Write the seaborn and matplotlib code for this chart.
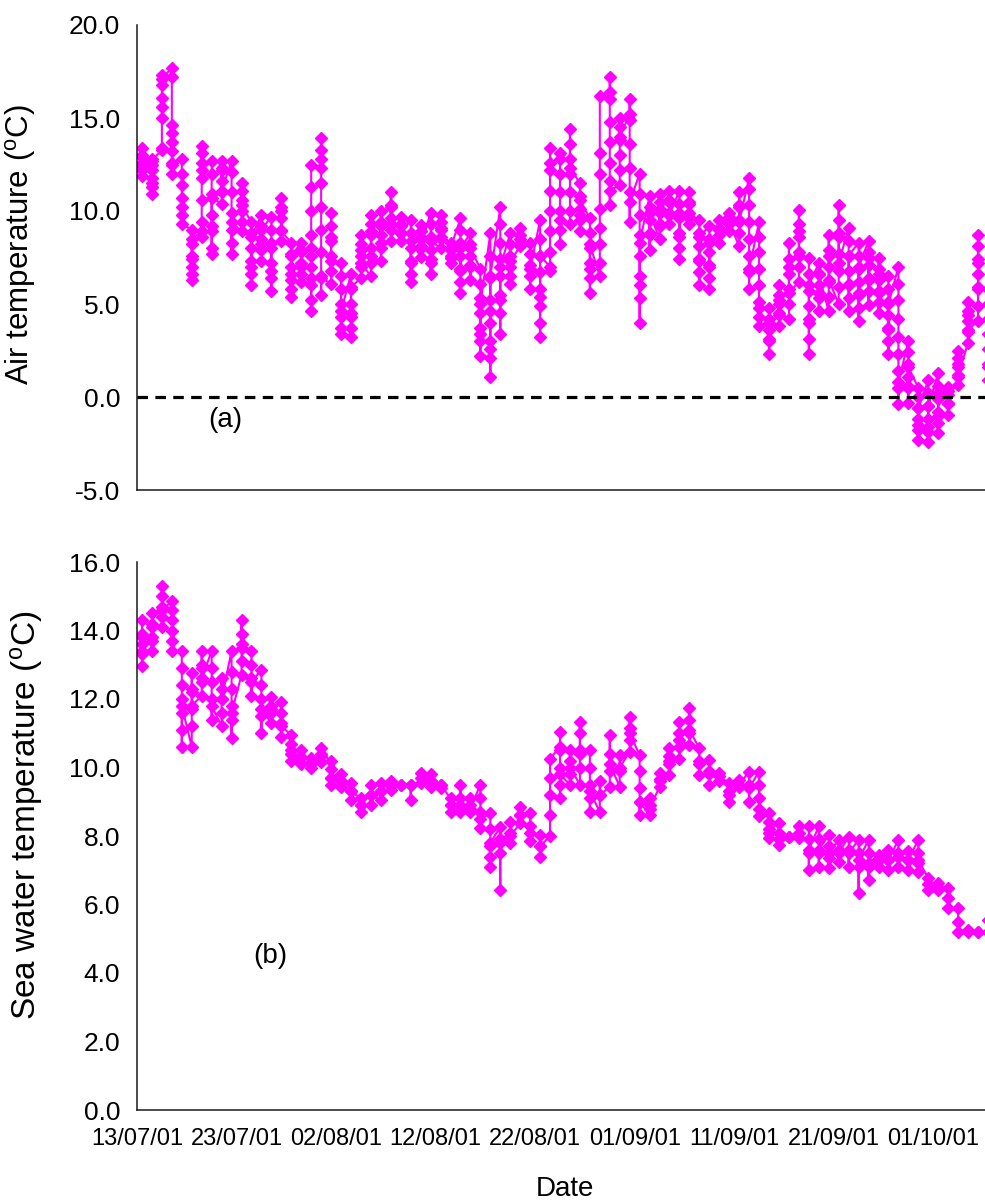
import numpy as np
import pandas as pd
import matplotlib
matplotlib.use("Agg")
import matplotlib.pyplot as plt
import seaborn as sns

# ---------------- data ----------------
tick_days = [0, 10, 20, 30, 40, 50, 60, 70, 80]
tick_labels = ["13/07/01", "23/07/01", "02/08/01", "12/08/01", "22/08/01",
               "01/09/01", "11/09/01", "21/09/01", "01/10/01"]

# Air temperature readings (°C), one list per day starting 13/07/01
air_readings = [
    [12.6, 12.2, 11.9, 12.4, 12.9, 13.4, 13.0, 12.5],
    [12.5, 11.8, 11.3, 10.9, 11.5, 12.2, 12.8, 12.7],
    [13.3, 13.4, 15.0, 15.6, 16.1, 16.8, 17.3, 17.1],
    [17.7, 17.2, 14.6, 14.2, 13.7, 13.2, 12.5, 12.0, 12.6],
    [12.8, 12.0, 11.4, 10.7, 10.2, 9.8, 9.3],
    [9.0, 8.2, 7.6, 7.0, 6.6, 6.3, 7.4, 8.5],
    [8.9, 8.6, 9.4, 10.6, 11.8, 12.6, 13.5, 13.1, 12.2],
    [12.7, 12.0, 10.9, 9.8, 8.9, 8.0, 7.7, 9.2, 10.7],
    [10.4, 11.0, 11.6, 12.2, 12.7, 12.3, 11.1],
    [12.7, 12.1, 11.0, 9.9, 9.0, 8.3, 7.7, 9.4],
    [8.9, 9.4, 10.0, 10.6, 11.1, 11.5, 10.3],
    [9.4, 8.8, 8.0, 7.3, 6.6, 6.0, 7.0, 8.6],
    [9.8, 9.2, 8.5, 7.9, 7.3, 8.2, 9.0],
    [9.7, 9.0, 8.0, 7.2, 6.4, 5.7, 6.8, 8.3],
    [8.4, 9.0, 9.6, 10.2, 10.7, 10.0, 8.9],
    [8.3, 7.7, 7.0, 6.3, 5.8, 5.4, 6.6, 7.6],
    [8.3, 7.8, 7.2, 6.6, 6.2, 7.0, 7.9],
    [8.0, 7.0, 6.0, 5.2, 4.6, 6.4, 7.6, 8.7, 10.0, 11.3, 12.5],
    [12.3, 13.3, 13.9, 12.8, 11.5, 10.2, 9.0, 7.8, 6.5, 5.5, 6.4],
    [6.1, 6.8, 7.6, 8.4, 9.2, 9.9, 8.6, 7.3],
    [7.2, 6.5, 5.8, 5.0, 4.3, 3.7, 3.4, 4.6],
    [6.6, 5.8, 5.0, 4.3, 3.7, 3.2, 4.5, 5.9],
    [6.4, 7.0, 7.6, 8.2, 8.7, 7.9, 7.2],
    [6.5, 7.2, 8.0, 8.7, 9.3, 9.8, 8.9, 7.6],
    [7.3, 8.0, 8.7, 9.4, 10.0, 9.2, 8.3],
    [8.4, 9.0, 9.6, 10.3, 11.0, 10.2, 9.3],
    [8.4, 8.8, 9.2, 9.7, 9.3, 8.8],
    [9.5, 8.8, 8.0, 7.3, 6.6, 6.2, 7.2, 8.4],
    [7.55, 8.0, 8.5, 8.9, 9.25, 8.6, 8.1],
    [9.9, 9.3, 8.6, 7.9, 7.2, 6.6, 7.4, 8.4],
    [8.0, 8.5, 9.0, 9.4, 9.8, 9.1, 8.6],
    [8.3, 7.9, 7.5, 7.2, 7.6, 8.0],
    [9.6, 9.0, 8.3, 7.6, 6.9, 6.2, 5.6, 6.8, 8.0],
    [8.8, 8.2, 7.6, 7.0, 6.3, 7.1, 8.0],
    [6.9, 6.1, 5.3, 4.5, 3.7, 3.0, 2.2, 3.4, 5.0],
    [8.8, 7.6, 6.4, 5.2, 4.0, 3.0, 2.1, 1.1, 2.6, 4.6, 6.5],
    [10.2, 9.3, 8.3, 7.4, 6.5, 5.5, 4.5, 3.4, 5.2, 7.0],
    [8.8, 8.2, 7.6, 7.0, 6.5, 6.1, 7.3],
    [8.1, 8.5, 9.1, 8.7, 8.3],
    [8.3, 7.7, 7.1, 6.5, 5.8, 6.9],
    [9.5, 8.5, 7.6, 6.7, 5.8, 4.9, 4.0, 3.2, 5.4, 7.6],
    [7.0, 6.8, 7.8, 8.9, 10.0, 11.1, 12.2, 13.4, 12.6],
    [12.8, 13.1, 12.0, 11.0, 10.0, 9.0, 8.2, 9.5],
    [9.3, 10.0, 11.0, 12.0, 12.8, 13.6, 14.4, 12.3],
    [11.5, 10.8, 10.1, 9.5, 8.9, 9.8, 10.6],
    [9.6, 8.8, 8.0, 7.2, 6.4, 5.6, 6.9, 8.2],
    [6.5, 7.2, 8.2, 9.1, 10.1, 12.0, 13.1, 16.2],
    [16.4, 17.2, 16.0, 14.8, 13.7, 12.6, 11.6, 10.3, 11.1],
    [11.4, 12.2, 13.0, 13.8, 14.5, 15.0, 14.0],
    [15.2, 16.0, 14.9, 13.6, 12.3, 11.0, 9.4, 10.5],
    [12.0, 10.9, 9.8, 8.7, 7.6, 6.5, 5.3, 4.0, 6.0, 8.3],
    [10.8, 10.2, 9.5, 8.7, 7.9, 8.8, 9.9],
    [8.5, 9.2, 9.9, 10.5, 10.9, 10.1, 9.3],
    [9.3, 9.9, 10.5, 11.1, 10.6, 9.8],
    [11.1, 10.4, 9.6, 8.8, 8.0, 7.4, 8.6, 9.9],
    [9.3, 9.9, 10.5, 11.0, 10.4, 9.7],
    [9.5, 8.8, 8.1, 7.4, 6.7, 6.0, 7.3, 8.6],
    [9.2, 8.5, 7.8, 7.1, 6.4, 5.8, 7.0, 8.3],
    [8.3, 8.7, 9.1, 9.5, 9.0],
    [8.9, 9.3, 9.7, 9.9, 9.4],
    [8.1, 8.8, 9.5, 10.2, 11.0, 10.3, 9.4],
    [11.8, 11.2, 10.3, 9.4, 8.5, 7.6, 6.7, 5.8, 6.9],
    [9.4, 8.6, 7.8, 6.9, 6.0, 5.1, 4.3, 3.8, 4.8],
    [4.8, 4.2, 3.6, 3.0, 2.3, 3.1, 4.0],
    [3.8, 4.4, 5.0, 5.5, 6.0, 5.2, 4.5],
    [4.2, 5.0, 5.8, 6.6, 7.4, 8.3, 7.0, 5.6],
    [6.2, 7.0, 7.8, 8.6, 9.3, 10.05, 8.9, 7.6],
    [7.5, 6.6, 5.7, 4.9, 4.0, 3.1, 2.3, 4.2, 6.0],
    [7.2, 6.6, 6.0, 5.3, 4.6, 5.6, 6.6],
    [4.6, 5.4, 6.2, 7.0, 7.9, 8.7, 7.6, 6.3],
    [5.0, 5.9, 6.8, 7.7, 8.6, 9.5, 10.3, 8.8, 7.2],
    [9.1, 8.4, 7.6, 6.8, 6.0, 5.3, 4.6, 6.1, 7.6],
    [8.3, 7.6, 6.9, 6.2, 5.5, 4.8, 4.1, 5.6, 7.0],
    [8.4, 7.8, 7.1, 6.4, 5.7, 4.95, 6.3, 7.5],
    [7.5, 6.9, 6.3, 5.7, 5.1, 4.5, 5.6, 6.6],
    [6.5, 5.8, 5.1, 4.4, 3.7, 3.0, 2.3, 3.6, 5.0],
    [7.0, 6.1, 5.2, 4.2, 3.2, 2.3, 1.4, 0.5, -0.4, 0.8],
    [3.0, 2.4, 1.8, 1.1, 0.5, -0.3, 0.6, 1.6],
    [0.5, 0.0, -0.6, -1.2, -1.8, -2.3, -1.5, -0.6],
    [0.9, 0.2, -0.5, -1.2, -1.9, -2.4, -1.6, -0.5],
    [1.3, 0.6, -0.1, -0.8, -1.4, -1.95, -1.0, 0.2],
    [0.55, 0.1, -0.4, -0.95, -0.3, 0.3],
    [0.65, 1.1, 1.6, 2.1, 2.5, 1.8, 1.2],
    [2.9, 3.5, 4.1, 4.6, 5.1, 4.4, 3.6],
    [4.1, 4.9, 5.8, 6.6, 7.4, 8.1, 8.7, 7.2, 5.9],
    [5.8, 5.0, 4.2, 3.4, 2.6, 1.8, 0.9, 1.6],
]

# Sea water temperature readings (°C), one list per day starting 13/07/01
sea_readings = [
    [14.3, 13.9, 13.6, 13.3, 12.95, 13.4, 13.8],
    [13.7, 13.4, 13.8, 14.1, 14.5, 14.2],
    [14.1, 14.4, 14.7, 15.0, 15.3, 14.6],
    [14.85, 14.6, 14.3, 14.0, 13.7, 13.4],
    [13.4, 12.9, 12.4, 12.0, 11.6, 11.1, 10.6, 11.8],
    [10.6, 11.2, 11.7, 12.2, 12.75, 12.3, 11.8],
    [12.1, 12.5, 12.9, 13.4, 13.0, 12.6],
    [13.4, 12.9, 12.5, 12.0, 11.4, 11.8],
    [11.2, 11.6, 12.0, 12.3, 12.6, 12.0],
    [13.4, 12.8, 12.3, 11.8, 11.4, 10.85, 11.6],
    [12.7, 13.1, 13.5, 13.9, 14.3, 13.6],
    [13.4, 13.0, 12.6, 12.1, 12.5],
    [12.85, 12.4, 12.0, 11.5, 11.0, 11.7],
    [11.3, 11.6, 11.8, 12.07, 11.7],
    [11.9, 11.6, 11.3, 10.9, 11.2],
    [10.95, 10.7, 10.4, 10.2, 10.5],
    [10.5, 10.3, 10.1, 10.3],
    [10.27, 10.1, 10.0, 10.15],
    [10.17, 10.35, 10.56, 10.4],
    [10.2, 9.95, 9.7, 9.5, 9.7],
    [9.8, 9.6, 9.44, 9.6],
    [9.54, 9.3, 9.05, 9.3],
    [9.1, 8.9, 8.7, 8.9],
    [8.9, 9.2, 9.5, 9.2],
    [9.05, 9.3, 9.54, 9.3],
    [9.34, 9.6, 9.45],
    [9.5, 9.5],
    [9.5, 9.05, 9.5],
    [9.54, 9.83, 9.7],
    [9.8, 9.6, 9.44, 9.6],
    [9.5, 9.4, 9.5],
    [9.1, 8.9, 8.7, 8.9],
    [8.7, 9.1, 9.5, 8.9],
    [8.7, 8.9, 9.1, 8.8],
    [9.5, 9.1, 8.7, 8.22, 8.5],
    [8.66, 8.2, 7.7, 7.4, 7.1, 7.8],
    [8.27, 7.9, 7.5, 7.9, 6.42, 7.8],
    [7.8, 8.1, 8.4, 8.0],
    [8.37, 8.6, 8.86, 8.6],
    [8.66, 8.3, 7.84, 8.1],
    [8.03, 7.7, 7.4, 7.7],
    [8.0, 8.6, 9.2, 9.7, 10.26],
    [10.6, 11.04, 10.5, 10.0, 9.5, 9.1, 9.8],
    [9.5, 9.8, 10.2, 10.5, 10.0],
    [9.5, 10.0, 10.5, 11.0, 11.34, 10.4],
    [10.5, 10.0, 9.5, 9.1, 8.7, 9.3],
    [8.7, 9.2, 9.6, 9.2],
    [9.44, 9.9, 10.4, 10.95, 10.1],
    [9.44, 9.9, 10.36, 10.0],
    [10.46, 10.8, 11.15, 11.48, 11.0],
    [10.36, 9.9, 9.4, 9.0, 8.61, 9.0],
    [8.61, 8.9, 9.1, 8.8],
    [9.44, 9.65, 9.83, 9.6],
    [9.78, 10.1, 10.35, 10.56, 10.2],
    [10.26, 10.6, 11.0, 11.34, 10.8],
    [10.65, 11.0, 11.4, 11.73, 11.1],
    [10.56, 10.2, 9.78, 10.1],
    [10.22, 9.9, 9.5, 9.8],
    [9.83, 9.6, 9.75],
    [9.54, 9.3, 9.0, 9.2],
    [9.44, 9.64, 9.5],
    [9.88, 9.5, 9.0, 9.4],
    [9.88, 9.5, 9.1, 8.8, 8.57],
    [8.67, 8.4, 8.1, 7.94, 8.2],
    [8.37, 8.1, 7.74, 7.9],
    [7.98, 7.98],
    [7.94, 8.1, 8.28],
    [8.28, 7.9, 7.5, 7.01, 7.6],
    [8.28, 7.9, 7.5, 7.1, 7.6],
    [8.03, 7.7, 7.35, 7.06, 7.5],
    [7.89, 7.6, 7.25, 7.5],
    [7.98, 7.6, 7.1, 7.5],
    [7.89, 7.5, 7.1, 6.33, 7.3],
    [7.89, 7.5, 7.1, 6.72, 7.2],
    [7.45, 7.1, 7.3],
    [7.6, 7.3, 7.01, 7.3],
    [7.89, 7.5, 7.1, 7.4],
    [7.55, 7.3, 7.01, 7.3],
    [7.89, 7.5, 7.2, 6.96, 7.3],
    [6.77, 6.6, 6.43],
    [6.62, 6.43, 6.5],
    [6.47, 6.2, 5.89],
    [5.89, 5.5, 5.2],
    [5.26, 5.2],
    [5.2, 5.2],
    [5.2, 5.55],
]


def to_frame(readings):
    xs, ys = [], []
    for d, vals in enumerate(readings):
        for v in vals:
            xs.append(d + 0.5)
            ys.append(v)
    return pd.DataFrame({"day": xs, "temp": ys})


air_df = to_frame(air_readings)
sea_df = to_frame(sea_readings)

# ---------------- styling ----------------
sns.set_style("white")
plt.rcParams["font.family"] = ["Liberation Sans", "DejaVu Sans"]
plt.rcParams["mathtext.default"] = "regular"
for key in ("text.color", "axes.labelcolor", "xtick.color", "ytick.color",
            "axes.edgecolor"):
    plt.rcParams[key] = "black"
MAGENTA = "#FF00FF"

fig = plt.figure(figsize=(9.85, 12.02), dpi=100)
W, H = 985.0, 1202.0
ax1 = fig.add_axes([137 / W, 1 - 490 / H, 848 / W, 465 / H])
ax2 = fig.add_axes([137 / W, 1 - 1110 / H, 848 / W, 548 / H])

line_kw = dict(x="day", y="temp", estimator=None, sort=False, color=MAGENTA,
               marker="D", markersize=5.8, markeredgecolor=MAGENTA,
               markeredgewidth=1.0, linewidth=1.5)

sns.lineplot(data=air_df, ax=ax1, **line_kw)
sns.lineplot(data=sea_df, ax=ax2, **line_kw)

ax1.axhline(0, color="black", linestyle=(0, (3.3, 2.3)), linewidth=2.3,
            zorder=3)

xmax = 85.2
for ax in (ax1, ax2):
    ax.set_xlim(0, xmax)
    ax.set_xticks(tick_days)
    for s in ("top", "right"):
        ax.spines[s].set_visible(False)
    for s in ("left", "bottom"):
        ax.spines[s].set_color("#1a1a1a")
        ax.spines[s].set_linewidth(1.1)
    ax.tick_params(axis="both", direction="out", length=5, width=1.0,
                   color="#1a1a1a", labelcolor="black", labelsize=19, pad=7)
    ax.set_xlabel("")
    ax.set_ylabel("")

ax1.set_ylim(-5, 20)
ax1.set_yticks([-5, 0, 5, 10, 15, 20])
ax1.set_yticklabels([f"{v:.1f}" for v in [-5, 0, 5, 10, 15, 20]])
ax1.set_xticklabels([])

ax2.set_ylim(0, 16)
ax2.set_yticks([0, 2, 4, 6, 8, 10, 12, 14, 16])
ax2.set_yticklabels([f"{v:.1f}" for v in [0, 2, 4, 6, 8, 10, 12, 14, 16]])
ax2.set_xticklabels(tick_labels, fontsize=17)
ax2.tick_params(axis="x", pad=8)

ax1.set_ylabel(r"Air temperature ($^{o}$C)", fontsize=22.5)
ax1.yaxis.set_label_coords(-0.117, 0.527)
ax2.set_ylabel(r"Sea water temperature ($^{o}$C)", fontsize=24)
ax2.yaxis.set_label_coords(-0.108, 0.538)

ax2.set_xlabel("Date", fontsize=20)
ax2.xaxis.set_label_coords(0.505, -0.12)

ax1.text(8.85, -1.25, "(a)", fontsize=20, ha="center", va="center")
ax2.text(13.4, 4.5, "(b)", fontsize=20, ha="center", va="center")

fig.savefig("out.png", dpi=100)
